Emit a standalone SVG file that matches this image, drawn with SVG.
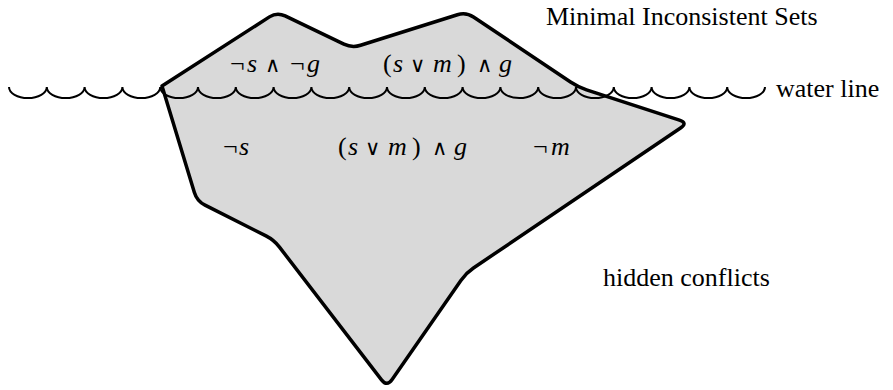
<svg xmlns="http://www.w3.org/2000/svg" width="893" height="390" viewBox="0 0 893 390">
  <rect x="0" y="0" width="893" height="390" fill="#fff"/>
  <g id="iceberg">
    <path fill="#d9d9d9" stroke="#000" stroke-width="3.5" stroke-linejoin="round" d="M162,86 L269.43,16.87 Q277,12 285.11,15.89 L343.89,44.11 Q352,48 360.58,45.29 L457.42,14.71 Q466,12 473.48,17.01 L570.52,81.99 Q578,87 586.55,89.8 L679.45,120.2 Q688,123 680.54,128.04 L473.46,267.96 Q466,273 460.87,280.4 L392.13,379.6 Q387,387 381.51,379.86 L279.49,247.14 Q274,240 265.97,235.93 L205.03,205.07 Q197,201 194.38,192.39 Z"/>
  </g>
  <g id="connectors">
    <path id="waterline" fill="none" stroke="#000" stroke-width="2" d="M9,87 a18.9,11 0 0 0 37.8,0 a18.9,11 0 0 0 37.8,0 a18.9,11 0 0 0 37.8,0 a18.9,11 0 0 0 37.8,0 a18.9,11 0 0 0 37.8,0 a18.9,11 0 0 0 37.8,0 a18.9,11 0 0 0 37.8,0 a18.9,11 0 0 0 37.8,0 a18.9,11 0 0 0 37.8,0 a18.9,11 0 0 0 37.8,0 a18.9,11 0 0 0 37.8,0 a18.9,11 0 0 0 37.8,0 a18.9,11 0 0 0 37.8,0 a18.9,11 0 0 0 37.8,0 a18.9,11 0 0 0 37.8,0 a18.9,11 0 0 0 37.8,0 a18.9,11 0 0 0 37.8,0 a18.9,11 0 0 0 37.8,0 a18.9,11 0 0 0 37.8,0 a18.9,11 0 0 0 37.8,0"/>
  </g>
  <g id="label-mis">
    <text x="546" y="25" font-family="Liberation Serif" font-size="26">Minimal Inconsistent Sets</text>
  </g>
  <g id="label-water">
    <text x="776" y="97" font-family="Liberation Serif" font-size="26">water line</text>
  </g>
  <g id="label-hidden">
    <text x="603" y="286" font-family="Liberation Serif" font-size="26">hidden conflicts</text>
  </g>
  <g id="mis-1">
    <text x="230" y="72" font-family="Liberation Serif" font-size="26">¬</text>
    <text x="247" y="72" font-family="Liberation Serif" font-size="26" font-style="italic">s</text>
    <text x="265" y="72" font-family="DejaVu Serif" font-size="21">∧</text>
    <text x="290" y="72" font-family="Liberation Serif" font-size="26">¬</text>
    <text x="307" y="72" font-family="Liberation Serif" font-size="26" font-style="italic">g</text>
  </g>
  <g id="mis-2">
    <text x="383" y="72" font-family="Liberation Serif" font-size="26">(</text>
    <text x="393" y="72" font-family="Liberation Serif" font-size="26" font-style="italic">s</text>
    <text x="410" y="72" font-family="DejaVu Serif" font-size="21">∨</text>
    <text x="433" y="72" font-family="Liberation Serif" font-size="26" font-style="italic">m</text>
    <text x="457" y="72" font-family="Liberation Serif" font-size="26">)</text>
    <text x="477" y="72" font-family="DejaVu Serif" font-size="21">∧</text>
    <text x="499" y="72" font-family="Liberation Serif" font-size="26" font-style="italic">g</text>
  </g>
  <g id="hidden-1">
    <text x="223" y="155" font-family="Liberation Serif" font-size="26">¬</text>
    <text x="239" y="155" font-family="Liberation Serif" font-size="26" font-style="italic">s</text>
  </g>
  <g id="hidden-2">
    <text x="338" y="155" font-family="Liberation Serif" font-size="26">(</text>
    <text x="348" y="155" font-family="Liberation Serif" font-size="26" font-style="italic">s</text>
    <text x="365" y="155" font-family="DejaVu Serif" font-size="21">∨</text>
    <text x="388" y="155" font-family="Liberation Serif" font-size="26" font-style="italic">m</text>
    <text x="412" y="155" font-family="Liberation Serif" font-size="26">)</text>
    <text x="432" y="155" font-family="DejaVu Serif" font-size="21">∧</text>
    <text x="454" y="155" font-family="Liberation Serif" font-size="26" font-style="italic">g</text>
  </g>
  <g id="hidden-3">
    <text x="533" y="155" font-family="Liberation Serif" font-size="26">¬</text>
    <text x="551" y="155" font-family="Liberation Serif" font-size="26" font-style="italic">m</text>
  </g>
</svg>
